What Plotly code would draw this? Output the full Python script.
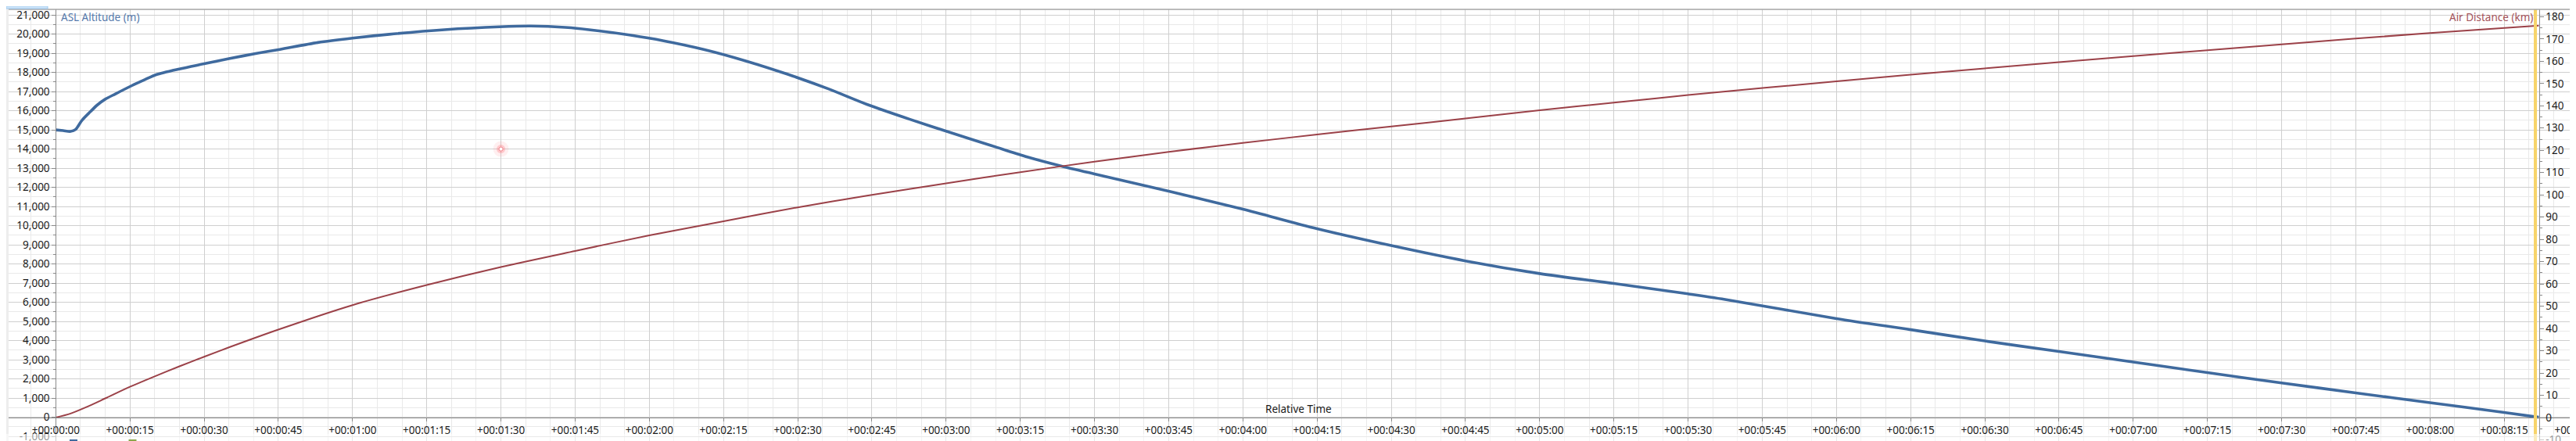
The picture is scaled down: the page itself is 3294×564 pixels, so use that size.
import plotly.graph_objects as go

# ---------------- data ----------------
time_alt_s = [0, 1.5, 3, 4, 5.3, 7, 8.4, 10, 12, 15.3, 18, 20.3, 25, 30, 35, 40.6, 45.3, 53, 60,
              67.4, 78.6, 89.7, 96, 103, 109.5, 116, 122.9, 131, 139.5, 148, 156.1, 164, 172.7,
              181, 189.3, 196, 203.2, 210, 225, 240, 255, 270, 285, 300, 315, 330, 337.5, 360,
              375, 390, 405, 420, 435, 450, 465, 480, 495, 502]
altitude_m = [15000, 14960, 14920, 15020, 15500, 15950, 16300, 16600, 16870, 17300, 17620, 17880,
              18180, 18450, 18720, 18990, 19200, 19560, 19790, 19990, 20230, 20380, 20420, 20350,
              20175, 19950, 19650, 19200, 18600, 17900, 17150, 16330, 15550, 14850, 14170, 13620,
              13120, 12700, 11800, 10860, 9840, 8960, 8160, 7500, 6980, 6440, 6150, 5150, 4570,
              3980, 3430, 2880, 2330, 1790, 1270, 760, 250, 0]

time_dist_s = [0, 3, 6, 10, 15, 20, 25, 30, 35, 45, 60, 75, 90, 105, 120, 135, 150, 164, 180, 195,
               210, 225, 240, 255, 270, 285, 300, 315, 330, 360, 390, 420, 450, 480, 502]
air_distance_km = [0, 1.8, 4.5, 8.6, 13.8, 18.5, 23.0, 27.3, 31.5, 39.5, 50.5, 59.5, 67.6, 74.8,
                   81.8, 88.1, 94.4, 99.6, 105.2, 110.2, 114.9, 119.3, 123.3, 127.1, 130.7, 134.3,
                   138.0, 141.4, 144.8, 151.0, 156.8, 162.3, 167.6, 172.7, 176.0]

marker_time_s = [90]
marker_alt_m = [14000]
cursor_time_s = 501.3

x_tick_vals = list(range(0, 511, 15))
x_tick_text = ["+00:%02d:%02d" % (v // 60, v % 60) for v in x_tick_vals]
alt_tick_vals = list(range(-1000, 21001, 1000))
alt_tick_text = [f"{v:,}" for v in alt_tick_vals]
dist_tick_vals = list(range(-10, 181, 10))
dist_tick_text = [str(v) for v in dist_tick_vals]

series_names = ["AIM-7", "AIM-7"]

# ---------------- geometry helpers (pixels -> paper) ----------------
W, H = 3294, 564
ML, MR, MT, MB = 3, 0, 4, 0
PW, PH = W - ML - MR, H - MT - MB


def px(x):
    return (x - ML) / PW


def py(y):
    return (H - MB - y) / PH


FONT = "Noto Sans"
TICKFONT = dict(family=FONT, size=13.5, color="#1a1a1a")
BLUE = "#3f6a9e"
RED = "#9b4148"
GRID_MAJ = "#cfcfcf"
GRID_MIN = "#e9e9e9"
AXIS_C = "#8a8a8a"

fig = go.Figure()

fig.add_trace(go.Scatter(x=time_dist_s, y=air_distance_km, yaxis="y2", mode="lines",
                         line=dict(color=RED, width=2, shape="spline", smoothing=0.8),
                         hoverinfo="skip", showlegend=False))
fig.add_trace(go.Scatter(x=time_alt_s, y=altitude_m, yaxis="y", mode="lines",
                         line=dict(color=BLUE, width=3.6, shape="spline", smoothing=0.8),
                         hoverinfo="skip", showlegend=False))
# glowing point marker
fig.add_trace(go.Scatter(x=marker_time_s, y=marker_alt_m, mode="markers",
                         marker=dict(size=20, color="rgba(255,120,130,0.12)", line=dict(width=0)),
                         hoverinfo="skip", showlegend=False))
fig.add_trace(go.Scatter(x=marker_time_s, y=marker_alt_m, mode="markers",
                         marker=dict(size=11, color="rgba(255,110,120,0.30)", line=dict(width=0)),
                         hoverinfo="skip", showlegend=False))
fig.add_trace(go.Scatter(x=marker_time_s, y=marker_alt_m, mode="markers",
                         marker=dict(size=5, color="#ffffff", line=dict(width=1, color="rgba(240,110,120,0.8)")),
                         hoverinfo="skip", showlegend=False))

x_left = (ML - 63.3) / 6.325
x_right = (W - MR - 63.3) / 6.325
alt_top = (525.6 - MT) / 0.0245
alt_bot = (525.6 - (H - MB)) / 0.0245
km_top = (526 - MT) / 2.848
km_bot = (526 - (H - MB)) / 2.848

fig.update_layout(
    width=W, height=H,
    margin=dict(l=ML, r=MR, t=MT, b=MB, pad=0),
    paper_bgcolor="white", plot_bgcolor="white",
    hovermode=False, showlegend=False,
    font=dict(family=FONT, size=13.5, color="#1a1a1a"),
    xaxis=dict(domain=[0, 1], range=[x_left, x_right], anchor="free", position=py(525.7),
               showline=True, linecolor=AXIS_C, linewidth=1,
               tickmode="array", tickvals=x_tick_vals, ticktext=x_tick_text,
               ticks="outside", ticklen=4, tickcolor=AXIS_C, tickfont=TICKFONT,
               ticklabeloverflow="allow",
               showgrid=True, gridcolor=GRID_MAJ, gridwidth=1, zeroline=False,
               minor=dict(tickmode="linear", tick0=0, dtick=5, showgrid=True,
                          gridcolor=GRID_MIN, ticks=""),
               automargin=False),
    yaxis=dict(range=[alt_bot, alt_top], anchor="free", position=px(63.3), side="left",
               showline=True, linecolor=AXIS_C, linewidth=1,
               tickmode="array", tickvals=alt_tick_vals, ticktext=alt_tick_text,
               ticks="outside", ticklen=5, tickcolor=AXIS_C, tickfont=TICKFONT,
               showgrid=True, gridcolor=GRID_MAJ, gridwidth=1, zeroline=False,
               minor=dict(tickmode="linear", tick0=0, dtick=500, showgrid=True,
                          gridcolor=GRID_MIN, ticks="outside", ticklen=3, tickcolor=AXIS_C),
               automargin=False),
    yaxis2=dict(range=[km_bot, km_top], overlaying="y", anchor="free", position=px(3238.5),
                side="right", showline=True, linecolor=AXIS_C, linewidth=1,
                tickmode="array", tickvals=dist_tick_vals, ticktext=dist_tick_text,
                ticks="outside", ticklen=5, tickcolor=AXIS_C, tickfont=TICKFONT,
                showgrid=False, zeroline=False,
                minor=dict(tickmode="linear", tick0=0, dtick=5, ticks="outside", ticklen=3,
                           tickcolor=AXIS_C, showgrid=False),
                automargin=False),
)

shapes = []
# cursor line (yellow)
shapes.append(dict(type="line", xref="x", yref="paper", x0=cursor_time_s, x1=cursor_time_s,
                   y0=0, y1=1, line=dict(color="#f7d46a", width=4), layer="above"))
# top frame line
shapes.append(dict(type="line", xref="paper", yref="paper", x0=px(0), x1=1, y0=1, y1=1,
                   line=dict(color="#a5a5a5", width=1.5), layer="above"))
# left window border
shapes.append(dict(type="rect", xref="paper", yref="paper", x0=px(0), x1=px(3), y0=0, y1=py(0),
                   fillcolor="#ededed", line=dict(width=0), layer="above"))
# selection tab top-left
shapes.append(dict(type="rect", xref="paper", yref="paper", x0=px(0), x1=px(53), y0=py(3), y1=py(0),
                   fillcolor="#cfe6fa", line=dict(color="#9cc8ee", width=1), layer="above"))
# semi-transparent legend band at bottom
shapes.append(dict(type="rect", xref="paper", yref="paper", x0=px(0), x1=1, y0=0, y1=py(547),
                   fillcolor="rgba(255,255,255,0.55)", line=dict(width=0), layer="above"))
# legend swatches (two-colour squares)
swatches = [(81, "#3f6a9e", "#a0474d"), (156.5, "#8aa64a", "#7a5a9e")]
for x0, ctop, cbot in swatches:
    shapes.append(dict(type="rect", xref="paper", yref="paper", x0=px(x0), x1=px(x0 + 10),
                       y0=py(559), y1=py(554), fillcolor=ctop, line=dict(width=0), layer="above"))
    shapes.append(dict(type="rect", xref="paper", yref="paper", x0=px(x0), x1=px(x0 + 10),
                       y0=py(564), y1=py(559), fillcolor=cbot, line=dict(width=0), layer="above"))
fig.update_layout(shapes=shapes)

annotations = [
    dict(text="ASL Altitude (m)", xref="paper", yref="paper", x=px(68), y=py(14),
         xanchor="left", yanchor="middle", showarrow=False,
         font=dict(family=FONT, size=13.5, color="#5579ab")),
    dict(text="Air Distance (km)", xref="paper", yref="paper", x=px(3233), y=py(14),
         xanchor="right", yanchor="middle", showarrow=False,
         font=dict(family=FONT, size=13.5, color="#a4525a")),
    dict(text="Relative Time", xref="paper", yref="paper", x=px(1652), y=py(515),
         xanchor="center", yanchor="middle", showarrow=False,
         font=dict(family=FONT, size=13.5, color="#1a1a1a")),
]
for (x0, _, _), name in zip(swatches, series_names):
    annotations.append(dict(text=name, xref="paper", yref="paper", x=px(x0 + 14), y=py(561),
                            xanchor="left", yanchor="middle", showarrow=False,
                            font=dict(family=FONT, size=14, color="#1a1a1a")))
fig.update_layout(annotations=annotations)

fig.write_html("out.html")
